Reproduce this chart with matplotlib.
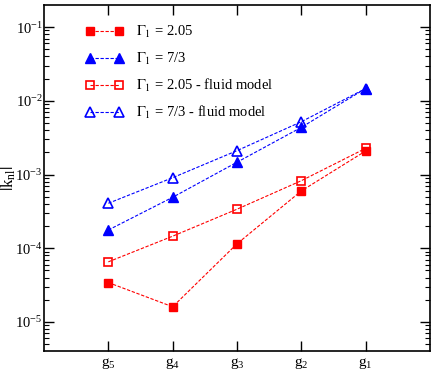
import matplotlib
matplotlib.use("Agg")
import numpy as np
import matplotlib.pyplot as plt
from matplotlib.ticker import NullFormatter, FixedLocator

plt.rcParams['font.family'] = ['Liberation Serif', 'DejaVu Serif']
plt.rcParams['mathtext.fontset'] = 'stix'

categories = ['g_5', 'g_4', 'g_3', 'g_2', 'g_1']
x_pos = [1, 2, 3, 4, 5]

red_filled = [3.43e-5, 1.61e-5, 1.15e-4, 6.0e-4, 2.09e-3]
blue_filled = [1.77e-4, 4.92e-4, 1.47e-3, 4.37e-3, 1.47e-2]
red_open = [6.55e-5, 1.46e-4, 3.39e-4, 8.26e-4, 2.27e-3]
blue_open = [4.08e-4, 9.07e-4, 2.11e-3, 5.21e-3, 1.47e-2]

labels = [r'$\Gamma_1$ = 2.05', r'$\Gamma_1$ = 7/3',
          r'$\Gamma_1$ = 2.05 - fluid model', r'$\Gamma_1$ = 7/3 - fluid model']

fig = plt.figure(figsize=(4.36, 3.81), dpi=100)
ax = fig.add_axes([44/436, 1-351/381, (430-44)/436, (351-5)/381])

lw = 0.8
ms = 6.3
ax.plot(x_pos, red_filled, color='red', ls='--', lw=lw, marker='s', ms=ms,
        mfc='red', mec='red', label=labels[0], dashes=(3, 1.5))
ax.plot(x_pos, blue_filled, color='blue', ls='--', lw=lw, marker='^', ms=ms+0.7,
        mfc='blue', mec='blue', label=labels[1], dashes=(3, 1.5))
ax.plot(x_pos, red_open, color='red', ls='--', lw=lw, marker='s', ms=ms,
        mfc='none', mec='red', mew=1.2, label=labels[2], dashes=(3, 1.5))
ax.plot(x_pos, blue_open, color='blue', ls='--', lw=lw, marker='^', ms=ms+0.7,
        mfc='none', mec='blue', mew=1.2, label=labels[3], dashes=(3, 1.5))

ax.set_yscale('log')
ax.set_xlim(0, 6)
ax.set_ylim(10**-5.393, 10**-0.70)
ax.set_xticks(x_pos)
ax.set_xticklabels([r'$\mathregular{%s}$' % c for c in categories], fontsize=11)
decades = [-6, -5, -4, -3, -2, -1]
ax.yaxis.set_major_locator(FixedLocator([10.0**d for d in decades]))
ax.yaxis.set_minor_locator(FixedLocator([m * 10.0**d for d in decades for m in range(2, 10)]))
ax.yaxis.set_minor_formatter(NullFormatter())
ax.tick_params(axis='y', which='major', direction='in', length=7, width=1,
               right=True, labelsize=10.5, pad=1)
ax.tick_params(axis='y', which='minor', direction='in', length=3.5, width=0.8,
               right=True, left=True)
ax.tick_params(axis='x', which='major', direction='in', length=7, width=1,
               top=True, labelsize=11)
ax.tick_params(axis='x', which='minor', bottom=False, top=False)
for s in ax.spines.values():
    s.set_linewidth(1.2)

ax.set_ylabel(r'$|\mathregular{k_{nl}}|$', fontsize=12)
ax.yaxis.set_label_coords(-0.068, 0.5)

leg = ax.legend(loc='upper left', bbox_to_anchor=(0.073, 0.982), frameon=False,
                numpoints=2, handlelength=2.6, handletextpad=0.9,
                labelspacing=0.7, fontsize=10.5)

fig.savefig('out.png', dpi=100)
